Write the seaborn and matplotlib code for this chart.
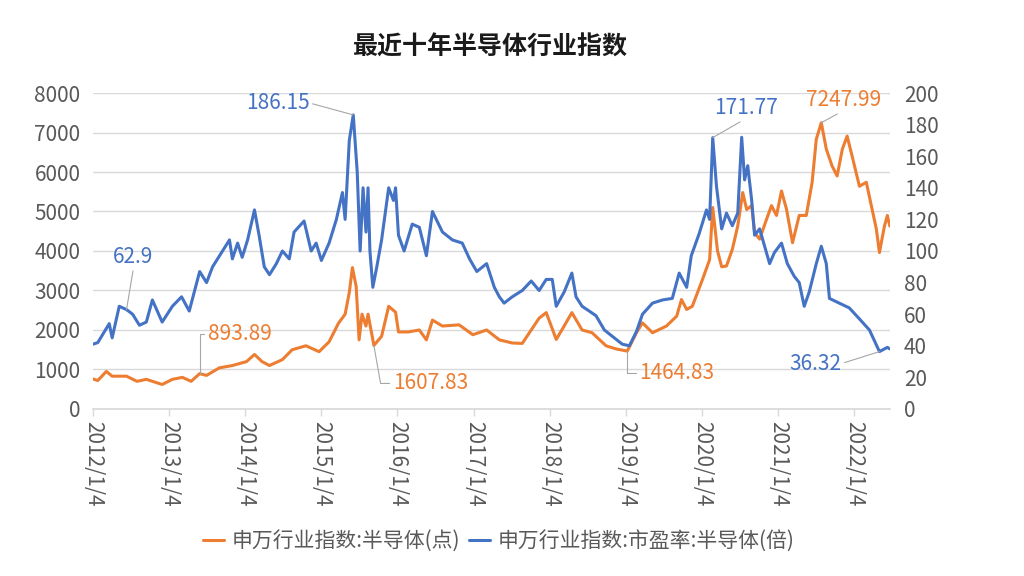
import matplotlib
matplotlib.use("Agg")
import matplotlib.pyplot as plt
import matplotlib.ticker as mticker
import pandas as pd
import seaborn as sns

# 申万行业指数:半导体(点)
index_dates = [
    "2012-01-04", "2012-01-27", "2012-03-08", "2012-04-05", "2012-06-13", "2012-08-02",
    "2012-09-16", "2012-12-01", "2013-01-19", "2013-03-08", "2013-04-19", "2013-05-30",
    "2013-07-02", "2013-09-01", "2013-11-03", "2014-01-10", "2014-02-17", "2014-03-25",
    "2014-04-30", "2014-07-01", "2014-08-17", "2014-10-22", "2014-12-24", "2015-02-10",
    "2015-03-27", "2015-04-28", "2015-05-18", "2015-06-02", "2015-06-20", "2015-07-04",
    "2015-07-18", "2015-08-06", "2015-08-16", "2015-09-13", "2015-10-20", "2015-11-23",
    "2015-12-26", "2016-01-09", "2016-02-25", "2016-04-18", "2016-05-22", "2016-06-20",
    "2016-08-07", "2016-10-26", "2016-12-31", "2017-03-07", "2017-05-07", "2017-07-08",
    "2017-08-25", "2017-11-14", "2017-12-18", "2018-02-04", "2018-03-14", "2018-04-20",
    "2018-06-08", "2018-07-26", "2018-10-01", "2018-11-18", "2019-01-11", "2019-02-24",
    "2019-03-25", "2019-05-12", "2019-07-18", "2019-09-05", "2019-09-28", "2019-10-23",
    "2019-11-19", "2020-01-07", "2020-02-10", "2020-02-25", "2020-03-19", "2020-04-08",
    "2020-05-01", "2020-05-29", "2020-06-24", "2020-07-18", "2020-08-06", "2020-08-30",
    "2020-09-13", "2020-10-07", "2020-11-09", "2020-12-03", "2020-12-27", "2021-01-20",
    "2021-02-13", "2021-03-14", "2021-04-15", "2021-05-19", "2021-06-16", "2021-07-06",
    "2021-07-30", "2021-08-23", "2021-09-20", "2021-10-14", "2021-11-08", "2021-12-01",
    "2021-12-25", "2022-01-29", "2022-03-03", "2022-03-27", "2022-04-20", "2022-05-05",
    "2022-05-29", "2022-06-12", "2022-06-24",
]
index_values = [
    760, 720, 950, 830, 830, 700,
    750, 620, 750, 800, 700, 893.89,
    850, 1040, 1100, 1200, 1380, 1200,
    1100, 1250, 1500, 1600, 1450, 1700,
    2170, 2400, 2950, 3580, 3100, 1750,
    2400, 2100, 2400, 1607.83, 1840, 2600,
    2450, 1950, 1950, 2000, 1750, 2250,
    2100, 2130, 1880, 2000, 1750, 1670,
    1660, 2300, 2440, 1760, 2100, 2440,
    2000, 1930, 1600, 1520, 1464.83, 1930,
    2180, 1930, 2100, 2350, 2770, 2520,
    2600, 3280, 3780, 5100, 4000, 3600,
    3620, 4040, 4630, 5480, 5050, 5150,
    4460, 4300, 4800, 5150, 4900, 5520,
    5060, 4210, 4900, 4900, 5740, 6830,
    7247.99, 6580, 6150, 5900, 6580, 6910,
    6400, 5640, 5740, 5150, 4560, 3960,
    4630, 4900, 4630,
]

# 申万行业指数:市盈率:半导体(倍)
pe_dates = [
    "2012-01-04", "2012-01-27", "2012-03-22", "2012-04-05", "2012-05-09", "2012-06-13",
    "2012-07-12", "2012-08-14", "2012-09-16", "2012-10-15", "2012-12-01", "2013-01-19",
    "2013-03-04", "2013-04-10", "2013-05-30", "2013-07-02", "2013-07-31", "2013-10-20",
    "2013-11-03", "2013-11-28", "2013-12-20", "2014-01-15", "2014-02-17", "2014-03-11",
    "2014-04-05", "2014-04-30", "2014-06-02", "2014-07-01", "2014-08-03", "2014-08-26",
    "2014-10-13", "2014-11-16", "2014-12-10", "2015-01-04", "2015-02-10", "2015-03-17",
    "2015-04-15", "2015-04-28", "2015-05-18", "2015-06-06", "2015-06-25", "2015-07-09",
    "2015-07-23", "2015-08-06", "2015-08-16", "2015-08-25", "2015-09-08", "2015-09-27",
    "2015-10-20", "2015-11-23", "2015-12-16", "2015-12-26", "2016-01-09", "2016-02-05",
    "2016-03-15", "2016-04-18", "2016-05-22", "2016-06-20", "2016-08-07", "2016-09-24",
    "2016-11-10", "2016-12-15", "2017-01-19", "2017-03-07", "2017-04-13", "2017-05-07",
    "2017-05-30", "2017-07-08", "2017-08-25", "2017-10-07", "2017-11-14", "2017-12-18",
    "2018-01-16", "2018-02-04", "2018-03-14", "2018-04-20", "2018-05-10", "2018-06-08",
    "2018-07-12", "2018-08-14", "2018-09-23", "2018-10-31", "2018-12-18", "2019-01-21",
    "2019-02-24", "2019-03-25", "2019-05-12", "2019-06-29", "2019-08-15", "2019-09-17",
    "2019-10-23", "2019-11-14", "2019-12-22", "2020-01-26", "2020-02-10", "2020-02-25",
    "2020-03-14", "2020-04-08", "2020-05-01", "2020-05-29", "2020-06-24", "2020-07-13",
    "2020-07-27", "2020-08-11", "2020-08-30", "2020-09-13", "2020-10-07", "2020-10-31",
    "2020-11-24", "2020-12-17", "2021-01-20", "2021-02-17", "2021-03-22", "2021-04-15",
    "2021-05-09", "2021-06-02", "2021-07-06", "2021-07-30", "2021-08-23", "2021-09-07",
    "2021-10-24", "2021-12-11", "2022-01-29", "2022-03-18", "2022-05-05", "2022-06-12",
    "2022-06-24",
]
pe_values = [
    41, 42, 54, 45, 65, 62.9,
    60, 53, 55, 69, 55, 65,
    71, 62, 87, 80, 90, 107,
    95, 105, 96, 107, 126, 110,
    90, 85, 92, 100, 95, 112,
    119, 100, 105, 94, 105, 120,
    137, 120, 170, 186.15, 150, 100,
    140, 112, 140, 100, 77, 90,
    107, 140, 132, 140, 110, 100,
    117, 115, 97, 125, 112, 107,
    105, 95, 87, 92, 77, 71,
    67, 71, 75, 81, 75, 82,
    82, 65, 74, 86, 71, 65,
    62, 59, 50, 46, 41, 40,
    49, 60, 67, 69, 70, 86,
    77, 97, 111, 126, 120, 171.77,
    141, 114, 124, 116, 124, 172,
    145, 154, 132, 110, 114, 103,
    92, 99, 105, 92, 84, 80,
    65, 74, 92, 103, 92, 70,
    67, 64, 57, 50, 36.32, 39,
    38,
]

index_label = "申万行业指数:半导体(点)"
pe_label = "申万行业指数:市盈率:半导体(倍)"
title = "最近十年半导体行业指数"

# labelled points: date, text offset (px), alignment, leader anchor, connector
index_notes = [
    ("2013-05-30", (8, 40), "left", (0, 0.5), "angle,angleA=0,angleB=90,rad=0"),
    ("2015-09-13", (19, -38), "left", (0, 0.5), "angle,angleA=0,angleB=100,rad=0"),
    ("2019-01-11", (12, -22), "left", (0, 0.5), "angle,angleA=0,angleB=90,rad=0"),
    ("2021-07-30", (22, 23), "center", (0.5, 0), "arc3"),
]
pe_notes = [
    ("2012-06-13", (7, 53), "center", (0.5, 0), "arc3"),
    ("2015-06-06", (-44, 12), "right", (1, 0.5), "arc3"),
    ("2020-02-25", (33, 30), "center", (0.5, 0), "arc3"),
    ("2022-05-05", (-38, -12), "right", (1, 0.5), "arc3"),
]

ORANGE = "#ED7D31"
BLUE = "#4472C4"
GREY = "#595959"

sns.set_theme(style="white")
plt.rcParams["font.family"] = ["Noto Sans CJK SC", "DejaVu Sans"]

index_df = pd.DataFrame({"date": pd.to_datetime(index_dates), "value": index_values})
pe_df = pd.DataFrame({"date": pd.to_datetime(pe_dates), "value": pe_values})

fig = plt.figure(figsize=(10.24, 5.76), dpi=100)
fig.subplots_adjust(left=0.0908, right=0.869, bottom=0.290, top=0.8385)
ax = fig.add_subplot(111)
ax2 = ax.twinx()

sns.lineplot(data=index_df, x="date", y="value", ax=ax, color=ORANGE,
             linewidth=2.2, label=index_label, legend=False)
sns.lineplot(data=pe_df, x="date", y="value", ax=ax2, color=BLUE,
             linewidth=2.2, label=pe_label, legend=False)

ax.set_ylim(0, 8000)
ax2.set_ylim(0, 200)
ax.set_yticks(range(0, 8001, 1000))
ax2.set_yticks(range(0, 201, 20))
ax.set_xlim(pd.Timestamp("2012-01-04"), pe_df["date"].max())

year_ticks = pd.date_range("2012-01-04", periods=11, freq=pd.DateOffset(years=1))
ax.set_xticks(year_ticks)
ax.xaxis.set_major_formatter(mticker.FuncFormatter(
    lambda v, pos: (lambda d: f"{d.year}/{d.month}/{d.day}")(matplotlib.dates.num2date(v))))

ax.grid(axis="y", color="#D9D9D9", linewidth=1)
ax.grid(axis="x", visible=False)
ax2.grid(False)
for a in (ax, ax2):
    for side in ("top", "left", "right", "bottom"):
        a.spines[side].set_visible(False)
ax.spines["bottom"].set_visible(True)
ax.spines["bottom"].set_color("#D9D9D9")

ax.tick_params(axis="y", length=0, pad=9, labelsize=15, labelcolor=GREY)
ax2.tick_params(axis="y", length=0, pad=10, labelsize=15, labelcolor=GREY)
ax.tick_params(axis="x", bottom=True, length=5, width=1, color="#D9D9D9",
               pad=4, labelsize=15, labelcolor=GREY)
for lbl in ax.get_xticklabels():
    lbl.set_rotation(-90)
    lbl.set_va("top")
    lbl.set_ha("center")

ax.set_xlabel("")
ax.set_ylabel("")
ax2.set_xlabel("")
ax2.set_ylabel("")

def add_notes(axis, df, notes, color):
    for date, offset, ha, relpos, conn in notes:
        row = df[df["date"] == pd.Timestamp(date)].iloc[0]
        axis.annotate(f"{row['value']:g}", xy=(row["date"], row["value"]),
                      xytext=offset, textcoords="offset pixels",
                      ha=ha, va="center", fontsize=15, color=color,
                      arrowprops=dict(arrowstyle="-", color="#A6A6A6", lw=0.8,
                                      relpos=relpos, connectionstyle=conn,
                                      shrinkA=0, shrinkB=0))

add_notes(ax, index_df, index_notes, ORANGE)
add_notes(ax2, pe_df, pe_notes, BLUE)

fig.text(0.479, 0.918, title, ha="center", va="center", fontsize=18,
         fontweight="bold", color="#1A1A1A")

handles = ax.get_lines()[:1] + ax2.get_lines()[:1]
fig.legend(handles, [index_label, pe_label], loc="center", ncol=2,
           bbox_to_anchor=(0.487, 0.061), frameon=False, fontsize=15,
           handlelength=1.0, handletextpad=0.4, columnspacing=0.4,
           labelcolor=GREY)

fig.savefig("out.png", dpi=100)
